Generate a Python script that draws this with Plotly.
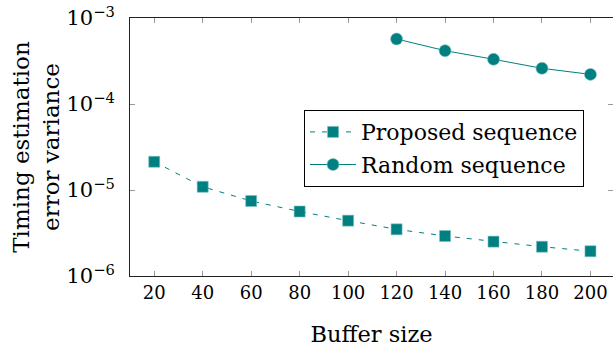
import plotly.graph_objects as go

buffer_prop = [20, 40, 60, 80, 100, 120, 140, 160, 180, 200]
var_prop = [2.13e-5, 1.09e-5, 7.45e-6, 5.62e-6, 4.40e-6, 3.49e-6, 2.92e-6, 2.51e-6, 2.19e-6, 1.94e-6]
buffer_rand = [120, 140, 160, 180, 200]
var_rand = [5.70e-4, 4.17e-4, 3.31e-4, 2.60e-4, 2.21e-4]
xticks = [20, 40, 60, 80, 100, 120, 140, 160, 180, 200]
yticks = [1e-6, 1e-5, 1e-4, 1e-3]
yticktext = ["10<sup>−6</sup>", "10<sup>−5</sup>", "10<sup>−4</sup>", "10<sup>−3</sup>"]

teal = "#008080"
font = "'DejaVu Serif', serif"

fig = go.Figure()
fig.add_trace(go.Scatter(
    x=buffer_prop, y=var_prop, mode="lines+markers", name="Proposed sequence",
    legendgroup="a",
    line=dict(color=teal, width=1, dash="5px,7px"),
    marker=dict(symbol="square", size=11, color=teal, line=dict(width=0.6, color="#7fbfbf")),
))
fig.add_trace(go.Scatter(
    x=buffer_rand, y=var_rand, mode="lines+markers", name="Random sequence",
    legendgroup="b",
    line=dict(color=teal, width=1),
    marker=dict(symbol="circle", size=12, color=teal, line=dict(width=0.6, color="#7fbfbf")),
))

fig.update_layout(
    width=613, height=347,
    margin=dict(l=130, r=0, t=18, b=71),
    paper_bgcolor="white", plot_bgcolor="white",
    font=dict(family=font, size=22, color="black"),
    showlegend=True,
    legend=dict(x=0.94, y=0.643, xanchor="right", yanchor="top",
                bordercolor="black", borderwidth=1, bgcolor="white",
                font=dict(family=font, size=22), tracegroupgap=1, itemwidth=46),
    xaxis=dict(range=[10, 209.3], tickvals=xticks, ticks="inside", ticklen=5,
               tickcolor="#999999", tickwidth=1, showline=True, linecolor="#222222",
               linewidth=1, mirror="ticks", showgrid=False, zeroline=False,
               title=dict(text="Buffer size", standoff=29,
                          font=dict(family=font, size=22.5, color="black")),
               tickfont=dict(family=font, size=18)),
    yaxis=dict(type="log", range=[-6, -3], tickvals=yticks, ticktext=yticktext,
               ticks="inside", ticklen=5, tickcolor="#999999", tickwidth=1,
               showline=True, linecolor="#222222", linewidth=1, mirror="ticks",
               showgrid=False, zeroline=False, ticklabelstandoff=10,
               title=dict(text="Timing estimation<br>error variance", standoff=0,
                          font=dict(family=font, size=23, color="black")),
               tickfont=dict(family=font, size=21)),
)

fig.write_html("out.html")
